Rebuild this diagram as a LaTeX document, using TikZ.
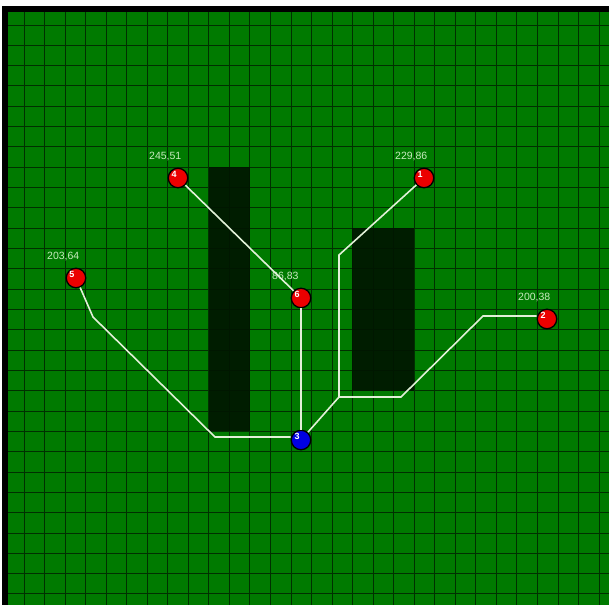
\documentclass[tikz,border=0pt]{standalone}
\usepackage{fontspec}
\setmainfont{Liberation Sans}
\definecolor{field}{RGB}{0,122,0}
\definecolor{wall}{RGB}{0,22,0}
\definecolor{gridcol}{RGB}{0,48,0}
\definecolor{routecol}{RGB}{225,240,215}
\definecolor{valtext}{RGB}{200,235,190}
\tikzset{
  site/.style={circle,draw=black,line width=1.3pt,fill={rgb,255:red,235;green,0;blue,0},minimum size=19.5pt,inner sep=0pt},
  depot/.style={site,fill={rgb,255:red,0;green,0;blue,225}},
  numlbl/.style={text=white,font=\fontsize{9}{9}\bfseries\selectfont,xshift=-4pt,yshift=3.5pt,inner sep=0pt},
  vallbl/.style={text=valtext,font=\fontsize{10.5}{11}\selectfont,inner sep=0pt,anchor=south west,xshift=-29pt},
  route/.style={draw=routecol,line width=1.6pt},
  gridline/.style={draw=gridcol,line width=1pt}
}

\begin{document}
\begin{tikzpicture}[x=1pt,y=-1pt,label distance=7pt]
  \useasboundingbox (0,0) rectangle (609,605);
  \fill[white] (0,0) rectangle (609,605);
  \fill[black] (2,6) rectangle (609,605);
  \fill[field] (8,12) rectangle (609,605);
  \foreach \k in {0,...,28} {
    \draw[gridline] ({24+20.54*\k},12) -- ({24+20.54*\k},605);
    \draw[gridline] (8,{25+20.32*\k}) -- (609,{25+20.32*\k});
  }
  \fill[wall,opacity=.93] (209,167) rectangle (250,431);
  \fill[wall,opacity=.93] (352,228) rectangle (414,391);

  \node[site,label={[numlbl]center:1},label={[vallbl]above:229,86}] (s1) at (424,178) {};
  \node[site,label={[numlbl]center:2},label={[vallbl]above:200,38}] (s2) at (547,319) {};
  \node[depot,label={[numlbl]center:3}] (s3) at (301,440) {};
  \node[site,label={[numlbl]center:4},label={[vallbl]above:245,51}] (s4) at (178,178) {};
  \node[site,label={[numlbl]center:5},label={[vallbl]above:203,64}] (s5) at (76,278) {};
  \node[site,label={[numlbl]center:6},label={[vallbl]above:86,83}] (s6) at (301,298) {};

  \coordinate (b1a) at (339,255);
  \coordinate (b1b) at (339,397);
  \coordinate (b2a) at (483,316);
  \coordinate (b2b) at (401,397);
  \coordinate (b5a) at (93,317);
  \coordinate (b5b) at (215,437);

  \draw[route] (s4) -- (s6);
  \draw[route] (s6) -- (s3);
  \draw[route] (s5) -- (b5a) -- (b5b) -- (b5b -| s3.west);
  \draw[route] (s1) -- (b1a) -- (b1b) -- (s3);
  \draw[route] (s2.west |- b2a) -- (b2a) -- (b2b) -- (b1b);
\end{tikzpicture}
\end{document}
